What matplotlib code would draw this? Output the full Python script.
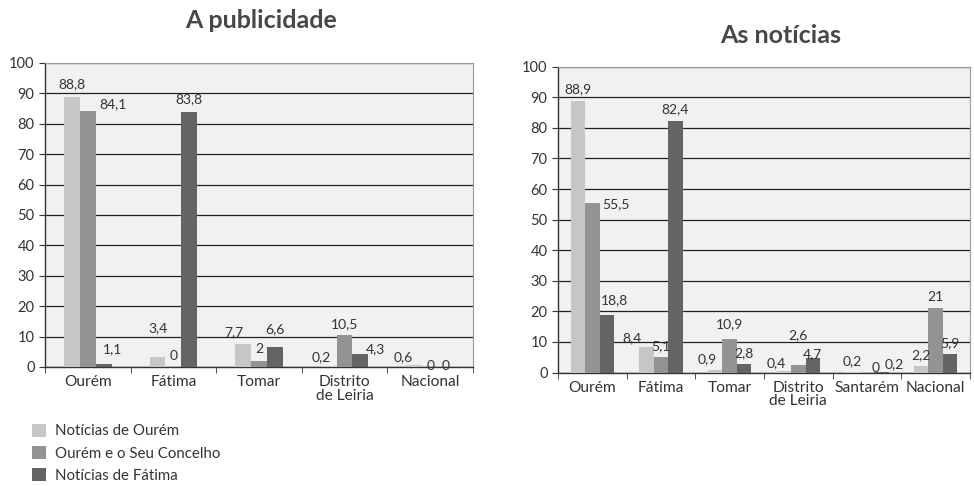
import numpy as np
import matplotlib.pyplot as plt

plt.rcParams['font.family'] = ['Lato', 'DejaVu Sans']

# Dados - A publicidade
cat_pub = ['Ourém', 'Fátima', 'Tomar', 'Distrito\nde Leiria', 'Nacional']
pub_ourem = [88.8, 3.4, 7.7, 0.2, 0.6]
pub_concelho = [84.1, 0, 2, 10.5, 0]
pub_fatima = [1.1, 83.8, 6.6, 4.3, 0]

# Dados - As notícias
cat_not = ['Ourém', 'Fátima', 'Tomar', 'Distrito\nde Leiria', 'Santarém', 'Nacional']
not_ourem = [88.9, 8.4, 0.9, 0.4, 0.2, 2.2]
not_concelho = [55.5, 5.1, 10.9, 2.6, 0, 21]
not_fatima = [18.8, 82.4, 2.8, 4.7, 0.2, 5.9]

series_names = ['Notícias de Ourém', 'Ourém e o Seu Concelho', 'Notícias de Fátima']
colors = ['#c6c6c6', '#939393', '#646464']
text_color = '#333333'

# deslocamentos dos rótulos (pixels) -> (série, categoria): (dx, dy)
offs_pub = {(1, 0): (25, 1), (2, 0): (9, 8), (0, 1): (0, 22), (2, 1): (0, 7),
            (0, 0): (0, 7), (0, 2): (-9, 5), (1, 2): (0, 6), (2, 2): (0, 12),
            (0, 3): (-7, 3), (2, 3): (15, -1), (0, 4): (-11, 2),
            (1, 4): (0, -5), (2, 4): (0, -5)}
offs_not = {(1, 0): (24, -7), (2, 0): (8, 9), (0, 1): (-15, 3), (0, 2): (-8, 5),
            (1, 2): (0, 9), (0, 3): (-8, 2), (1, 3): (0, 23), (2, 3): (0, -2),
            (1, 4): (9, -1), (2, 4): (13, 2)}


def fmt(v):
    return ('%g' % v).replace('.', ',')


def draw(ax, cats, series, width, offs):
    x = np.arange(len(cats))
    offsets = [-width, 0, width]
    bars = []
    for si, (vals, off, c) in enumerate(zip(series, offsets, colors)):
        b = ax.bar(x + off, vals, width, color=c, zorder=3)
        bars.append(b)
        for ci, (xi, v) in enumerate(zip(x + off, vals)):
            dx, dy = offs.get((si, ci), (0, 5))
            ax.annotate(fmt(v), (xi, v), xytext=(dx, dy), textcoords='offset pixels',
                        ha='center', va='bottom', fontsize=10, color=text_color,
                        zorder=4, annotation_clip=False)
    ax.set_xlim(-0.5, len(cats) - 0.5)
    ax.set_ylim(0, 100)
    ax.set_yticks(range(0, 101, 10))
    ax.set_xticks(x)
    ax.set_xticklabels(cats, fontsize=11.2, color=text_color, linespacing=0.95)
    ax.set_xticks(np.arange(len(cats) + 1) - 0.5, minor=True)
    ax.tick_params(axis='x', which='major', length=0, pad=6)
    ax.tick_params(axis='x', which='minor', length=4, color='#333333')
    ax.tick_params(axis='y', labelsize=10.5, labelcolor=text_color, length=4, color='#333333')
    ax.set_facecolor('#f1f1f1')
    ax.grid(axis='y', color='#222222', linewidth=0.9, zorder=1)
    for s in ['top', 'right']:
        ax.spines[s].set_color('#9a9a9a')
        ax.spines[s].set_linewidth(0.8)
    for s in ['left', 'bottom']:
        ax.spines[s].set_color('#333333')
        ax.spines[s].set_linewidth(1.0)
    return bars


fig = plt.figure(figsize=(9.74, 4.86), dpi=100)

ax1 = fig.add_axes([0.0462, 0.2449, 0.4394, 0.6255])
bars = draw(ax1, cat_pub, [pub_ourem, pub_concelho, pub_fatima], 0.185, offs_pub)
fig.text(0.268, 0.957, 'A publicidade', ha='center', va='center',
         fontsize=18, fontweight='bold', color='#474747')

ax2 = fig.add_axes([0.5729, 0.2335, 0.4230, 0.6293])
draw(ax2, cat_not, [not_ourem, not_concelho, not_fatima], 0.21, offs_not)
fig.text(0.801, 0.927, 'As notícias', ha='center', va='center',
         fontsize=18, fontweight='bold', color='#474747')

fig.legend(bars, series_names, loc='upper left', bbox_to_anchor=(0.033, 0.128),
           frameon=False, fontsize=10.8, handlelength=0.95, handleheight=0.95,
           handletextpad=0.6, labelspacing=0.5, borderaxespad=0, borderpad=0,
           labelcolor=text_color)

fig.savefig('out.png', dpi=100)
